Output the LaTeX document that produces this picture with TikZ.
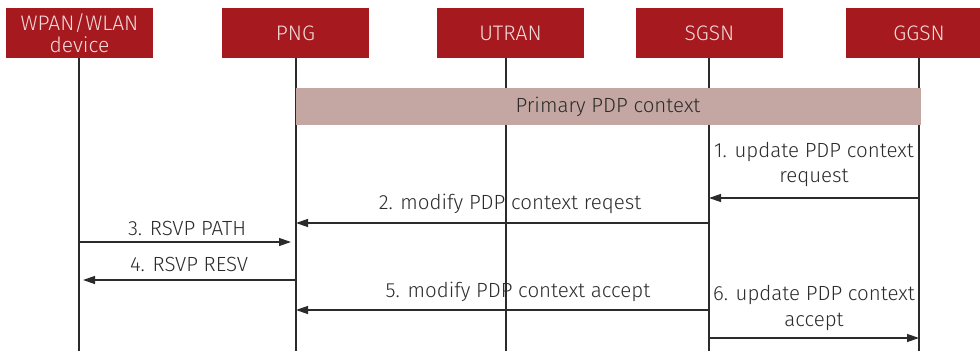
\documentclass[tikz,border=0pt]{standalone}
\usepackage{fontspec}
\setmainfont{Fira Sans Light}
\usetikzlibrary{arrows.meta}
\definecolor{hdrred}{HTML}{A6191E}
\definecolor{hdrtext}{HTML}{F3DCDC}
\definecolor{bandfill}{HTML}{C4A7A2}
\definecolor{ink}{HTML}{2B2B2B}
\begin{document}
\begin{tikzpicture}[x=1pt,y=-1pt,
  hdr/.style={fill=hdrred, text=hdrtext, minimum width=147pt, minimum height=50pt,
    inner sep=0pt, align=center, font=\fontsize{21}{22.5}\selectfont},
  life/.style={draw=ink, line width=1.2pt},
  msg/.style={draw=ink, line width=1.3pt, -{Triangle[length=12pt,width=8pt]}},
  lbl/.style={text=ink, inner sep=0pt, align=center, font=\fontsize{20.5}{25.5}\selectfont}]
\useasboundingbox (0,0) rectangle (980,351);

% participants
\node[hdr] (wpan)  at (79.5,33)  {WPAN/WLAN\\device};
\node[hdr] (png)   at (295.5,33) {PNG};
\node[hdr] (utran) at (510.5,33) {UTRAN};
\node[hdr] (sgsn)  at (709.5,33) {SGSN};
\node[hdr] (ggsn)  at (919,33)   {GGSN};

% lifelines
\coordinate (wT) at (79,58);   \coordinate (wB) at (79,351);
\coordinate (pT) at (296,58);  \coordinate (pB) at (296,351);
\coordinate (uT) at (506,58);  \coordinate (uB) at (506,351);
\coordinate (sT) at (709,58);  \coordinate (sB) at (709,351);
\coordinate (gT) at (919,58);  \coordinate (gB) at (919,351);
\draw[life] (wT) -- (wB);
\draw[life] (pT) -- (pB);
\draw[life] (uT) -- (uB);
\draw[life] (sT) -- (sB);
\draw[life] (gT) -- (gB);

% shared context band
\node[fill=bandfill, text=ink, inner sep=0pt, minimum height=37pt,
      minimum width=625pt, font=\fontsize{20.5}{22}\selectfont] (ctx)
      at (608,106.5) {Primary PDP context};

% messages
\draw[msg] (gB |- 0,198) -- (sB |- 0,198);
\node[lbl] (l1) at (814,164.5) {1. update PDP context\\request};

\draw[msg] (sB |- 0,223) -- (pB |- 0,223);
\node[lbl] (l2) at (510,204) {2. modify PDP context reqest};

\draw[msg, shorten >=5pt] (wB |- 0,242) -- (pB |- 0,242);
\node[lbl] (l3) at (187,228) {3. RSVP PATH};

\draw[msg, shorten >=4pt] (pB |- 0,280) -- (wB |- 0,280);
\node[lbl] (l4) at (189,264) {4. RSVP RESV};

\draw[msg] (sB |- 0,310) -- (pB |- 0,310);
\node[lbl] (l5) at (518,292) {5. modify PDP context accept};

\draw[msg] (sB |- 0,338) -- (gB |- 0,338);
\node[lbl] (l6) at (814,308) {6. update PDP context\\accept};
\end{tikzpicture}
\end{document}
